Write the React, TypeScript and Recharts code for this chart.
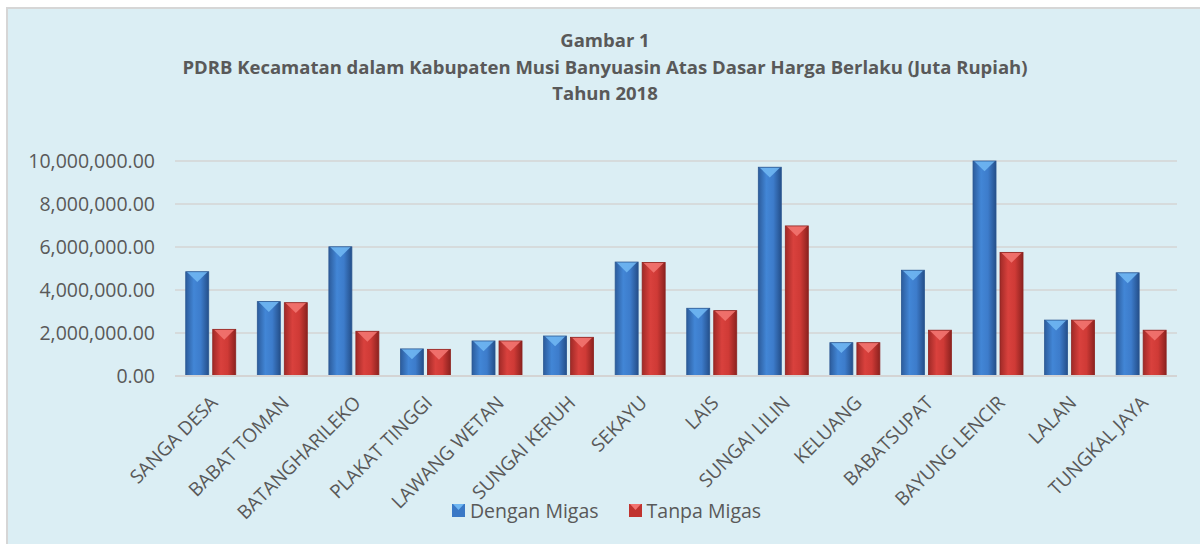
import { BarChart, Bar, XAxis, YAxis, CartesianGrid, Legend } from 'recharts';

const kecamatan = [
  'SANGA DESA',
  'BABAT TOMAN',
  'BATANGHARILEKO',
  'PLAKAT TINGGI',
  'LAWANG WETAN',
  'SUNGAI KERUH',
  'SEKAYU',
  'LAIS',
  'SUNGAI LILIN',
  'KELUANG',
  'BABATSUPAT',
  'BAYUNG LENCIR',
  'LALAN',
  'TUNGKAL JAYA',
];

const denganMigas = [
  4850000, 3460000, 6010000, 1260000, 1630000, 1860000, 5300000, 3150000, 9710000,
  1550000, 4920000, 10000000, 2600000, 4800000,
];

const tanpaMigas = [
  2170000, 3410000, 2080000, 1240000, 1630000, 1800000, 5280000, 3040000, 6980000,
  1550000, 2130000, 5750000, 2600000, 2130000,
];

const yTicks = [0, 2000000, 4000000, 6000000, 8000000, 10000000];

const data = kecamatan.map((name, i) => ({
  name,
  dengan: denganMigas[i],
  tanpa: tanpaMigas[i],
}));

const FONT = '"Open Sans", "Noto Sans", sans-serif';
const TEXT = '#595959';

const fmt = (v: number) =>
  v.toLocaleString('en-US', { minimumFractionDigits: 2, maximumFractionDigits: 2 });

function BevelBar(props: any) {
  const { x, y, width, height, kind } = props;
  if (!height || height <= 0) return null;
  const id = `grad-${kind}`;
  const tri = kind === 'blue' ? '#6fb6f2' : '#f27470';
  const tip = Math.min(width * 0.45, height);
  return (
    <g>
      <rect x={x} y={y} width={width} height={height} fill={`url(#${id})`} />
      <polygon
        points={`${x + 1},${y} ${x + width - 1},${y} ${x + width / 2},${y + tip}`}
        fill={tri}
        opacity={0.9}
      />
      <rect
        x={x}
        y={y}
        width={width}
        height={height}
        fill="none"
        stroke={kind === 'blue' ? '#2b5791' : '#8e2320'}
        strokeWidth={0.8}
      />
    </g>
  );
}

function XTick(props: any) {
  const { x, y, payload } = props;
  const ax = x + 8;
  const ay = y + 20;
  return (
    <text
      x={ax}
      y={ay}
      transform={`rotate(-45, ${ax}, ${ay})`}
      textAnchor="end"
      fill={TEXT}
      fontSize={19}
      fontFamily={FONT}
    >
      {payload.value}
    </text>
  );
}

function LegendContent() {
  const items = [
    { label: 'Dengan Migas', c: '#3a78c6', t: '#6fb6f2' },
    { label: 'Tanpa Migas', c: '#c0332f', t: '#f27470' },
  ];
  return (
    <div style={{ display: 'flex', justifyContent: 'center', gap: 30, fontFamily: FONT, paddingLeft: 16 }}>
      {items.map((it) => (
        <div key={it.label} style={{ display: 'flex', alignItems: 'center', gap: 5 }}>
          <svg width={13} height={13}>
            <rect x={0} y={0} width={13} height={13} fill={it.c} />
            <polygon points="1,0 12,0 6.5,6" fill={it.t} />
          </svg>
          <span style={{ fontSize: 19.5, color: TEXT }}>{it.label}</span>
        </div>
      ))}
    </div>
  );
}

export default function App() {
  return (
    <div style={{ position: 'absolute', left: 0, top: 0, width: 1200, height: 544, background: '#fff' }}>
      <div
        style={{
          position: 'absolute',
          left: 6,
          top: 7,
          width: 1200,
          height: 544,
          background: '#dbeef4',
          borderTop: '2px solid #d6d6d6',
          borderLeft: '2px solid #d6d6d6',
        }}
      />
      <div
        style={{
          position: 'absolute',
          left: 0,
          top: 27,
          width: 1210,
          textAlign: 'center',
          fontFamily: FONT,
          fontWeight: 700,
          fontSize: 18.5,
          lineHeight: '26.5px',
          color: TEXT,
        }}
      >
        <div>Gambar 1</div>
        <div>PDRB Kecamatan dalam Kabupaten Musi Banyuasin Atas Dasar Harga Berlaku (Juta Rupiah)</div>
        <div>Tahun 2018</div>
      </div>
      <div style={{ position: 'absolute', left: 0, top: 0 }}>
        <BarChart
          width={1200}
          height={544}
          data={data}
          margin={{ top: 161, right: 23, bottom: 20, left: 20 }}
          barCategoryGap="15%"
          barGap={4}
        >
          <defs>
            <linearGradient id="grad-blue" x1="0" y1="0" x2="1" y2="0">
              <stop offset="0%" stopColor="#2c5c9c" />
              <stop offset="35%" stopColor="#4286d6" />
              <stop offset="65%" stopColor="#3d7ccb" />
              <stop offset="100%" stopColor="#244f8a" />
            </linearGradient>
            <linearGradient id="grad-red" x1="0" y1="0" x2="1" y2="0">
              <stop offset="0%" stopColor="#a02a27" />
              <stop offset="35%" stopColor="#d9413d" />
              <stop offset="65%" stopColor="#cf3a36" />
              <stop offset="100%" stopColor="#8c221f" />
            </linearGradient>
          </defs>
          <CartesianGrid vertical={false} stroke="#d4d4d4" strokeWidth={1.5} />
          <XAxis
            dataKey="name"
            interval={0}
            tickLine={false}
            axisLine={{ stroke: '#d4d4d4', strokeWidth: 2 }}
            tick={<XTick />}
            height={121}
          />
          <YAxis
            domain={[0, 10000000]}
            ticks={yTicks}
            tickFormatter={fmt}
            axisLine={false}
            tickLine={false}
            width={155}
            tick={{ fill: TEXT, fontSize: 19.5, fontFamily: FONT }}
            tickMargin={14}
          />
          <Legend content={<LegendContent />} verticalAlign="bottom" wrapperStyle={{ bottom: 20 }} />
          <Bar
            dataKey="dengan"
            name="Dengan Migas"
            isAnimationActive={false}
            shape={(p: any) => <BevelBar {...p} kind="blue" />}
          />
          <Bar
            dataKey="tanpa"
            name="Tanpa Migas"
            isAnimationActive={false}
            shape={(p: any) => <BevelBar {...p} kind="red" />}
          />
        </BarChart>
      </div>
    </div>
  );
}
